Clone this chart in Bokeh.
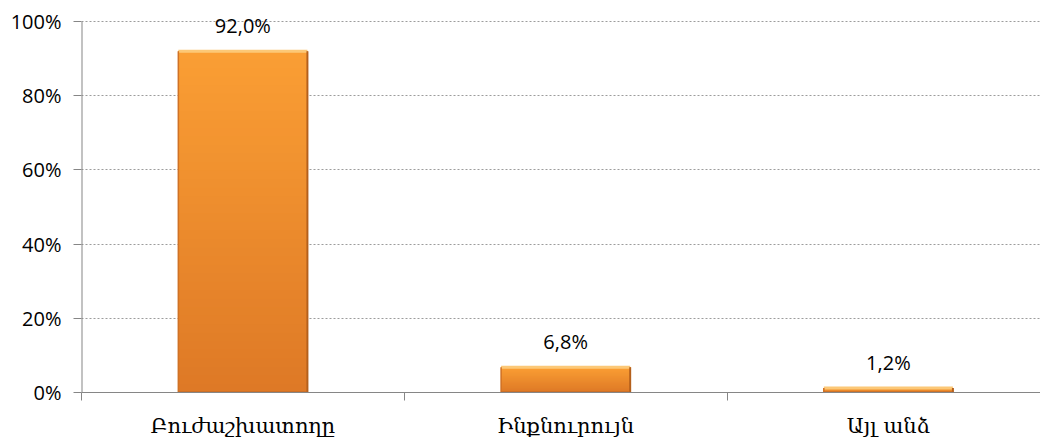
from bokeh.plotting import figure
from bokeh.models import Range1d, FixedTicker, NumeralTickFormatter, ColumnDataSource, LabelSet
from bokeh.core.properties import value
from bokeh.embed import file_html
from bokeh.resources import INLINE

categories = ["Բուժաշխատողը", "Ինքնուրույն", "Այլ անձ"]
values = [0.920, 0.068, 0.012]
y_ticks = [0, 0.2, 0.4, 0.6, 0.8, 1.0]

positions = list(range(1, len(categories) + 1))
bar_w = 0.40
y_top = 1 + 21 / 371  # headroom above 100% for the value label

p = figure(frame_width=959, frame_height=392, output_backend="svg", toolbar_location=None,
           x_range=Range1d(0.5, 0.5 + 959 / 322.75), y_range=Range1d(0, y_top),
           min_border_left=81, min_border_right=0, min_border_top=0, min_border_bottom=49)
p.outline_line_color = None
p.background_fill_color = "white"

# gradient bars: overlapping slices, light at top, darker at bottom
top_c = (250, 158, 52)
bot_c = (222, 121, 38)
N = 40
xs0, xs1, ys0, ys1, cols = [], [], [], [], []
for x, v in zip(positions, values):
    for k in range(N):
        t = k / (N - 1)
        c = tuple(int(round(bot_c[j] + (top_c[j] - bot_c[j]) * t)) for j in range(3))
        xs0.append(x - bar_w / 2); xs1.append(x + bar_w / 2)
        ys0.append(v * k / N); ys1.append(v)
        cols.append("#%02x%02x%02x" % c)
p.quad(left=xs0, right=xs1, bottom=ys0, top=ys1, fill_color=cols, line_color=None)

lefts = [x - bar_w / 2 for x in positions]
rights = [x + bar_w / 2 for x in positions]
zeros = [0] * len(values)
# bevel edges
p.segment(x0=lefts, x1=rights, y0=values, y1=values, line_color="#FCC877", line_width=3)
p.segment(x0=rights, x1=rights, y0=zeros, y1=values, line_color="#B4601C", line_width=2)
p.segment(x0=lefts, x1=lefts, y0=zeros, y1=values, line_color="#D07225", line_width=1.5)
p.segment(x0=lefts, x1=rights, y0=zeros, y1=zeros, line_color="#B8672A", line_width=2)

labels = [("%.1f" % (v * 100)).replace(".", ",") + "%" for v in values]
src = ColumnDataSource(dict(x=positions, y=values, t=labels))
p.add_layout(LabelSet(x="x", y="y", text="t", source=src, text_align="center",
                      text_baseline="bottom", y_offset=12, text_font=value("Open Sans"),
                      text_font_size=value("20px"), text_color="#000000"))

# y axis line only from 0 to 100%
p.segment(x0=[0.5], x1=[0.5], y0=[y_ticks[0]], y1=[y_ticks[-1]], line_color="#868686", line_width=2)

# axes
p.yaxis.ticker = FixedTicker(ticks=y_ticks)
p.yaxis.formatter = NumeralTickFormatter(format="0%")
p.yaxis.axis_line_color = None
p.yaxis.major_tick_line_color = "#868686"
p.yaxis.major_tick_out = 8
p.yaxis.major_tick_in = 0
p.yaxis.minor_tick_line_color = None
p.yaxis.major_label_standoff = 12
p.yaxis.major_label_text_font = "Open Sans"
p.yaxis.major_label_text_font_size = "20px"
p.yaxis.major_label_text_color = "#000000"

p.xaxis.ticker = FixedTicker(ticks=positions, minor_ticks=[x - 0.5 for x in positions] + [positions[-1] + 0.5])
p.xaxis.major_label_overrides = {x: c for x, c in zip(positions, categories)}
p.xaxis.axis_line_color = "#868686"
p.xaxis.major_tick_line_color = None
p.xaxis.major_tick_out = 0
p.xaxis.major_tick_in = 0
p.xaxis.minor_tick_line_color = "#868686"
p.xaxis.minor_tick_out = 8
p.xaxis.minor_tick_in = 0
p.xaxis.major_label_standoff = 13
p.xaxis.major_label_text_font = "DejaVu Serif"
p.xaxis.major_label_text_font_size = "21px"
p.xaxis.major_label_text_color = "#000000"

p.xgrid.grid_line_color = None
p.ygrid.ticker = FixedTicker(ticks=y_ticks)
p.ygrid.grid_line_color = "#9C9C9C"
p.ygrid.grid_line_dash = "2 2"
p.ygrid.grid_line_width = 1

open("out.html", "w").write(file_html(p, INLINE))
